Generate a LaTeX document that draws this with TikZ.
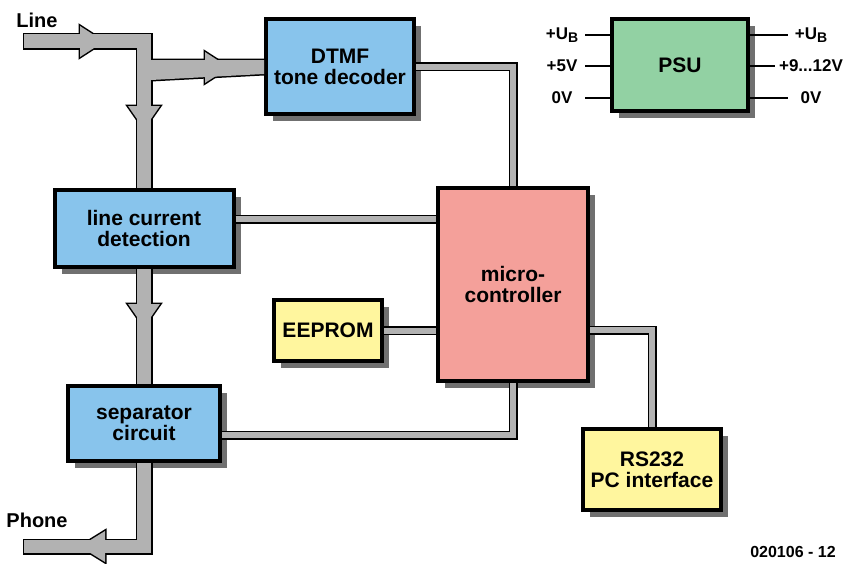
\documentclass[tikz,border=0pt]{standalone}
\usepackage{fontspec}
\setmainfont{Liberation Sans}
\usetikzlibrary{shadows, calc}
\definecolor{BlkBlue}{HTML}{88C4EC}
\definecolor{BlkPink}{HTML}{F4A09A}
\definecolor{BlkYellow}{HTML}{FFF69E}
\definecolor{BlkGreen}{HTML}{92D1A3}
\definecolor{BlkBus}{HTML}{B2B2B2}
\definecolor{BlkShadow}{HTML}{707070}
\newcommand{\pinsub}[1]{\raisebox{-0.3ex}{\fontsize{14}{14}\selectfont #1}}
\newcommand{\busshapes}[1]{%
  \path[#1] (24,34) rectangle (151,48);
  \path[#1] (80,26) -- (104,41.5) -- (80,57) -- cycle;
  \path[#1] ($(lcd.north)+(-7,0)$) rectangle (151,34);
  \path[#1] (128,106) -- (160,106) -- (144,129) -- cycle;
  \path[#1] (151,60) -- ($(dtmf.west)+(0,-6.5)$) -- ($(dtmf.west)+(0,7.5)$) -- (151,80) -- cycle;
  \path[#1] (205,52) -- (229,67.5) -- (205,83) -- cycle;
  \path[#1] ($(lcd.south)+(-7,0)$) rectangle ($(sep.north)+(7,0)$);
  \path[#1] (128,304) -- (160,304) -- (144,327) -- cycle;
  \path[#1] ($(sep.south)+(-7,0)$) rectangle (151,553);
  \path[#1] (24,540) rectangle (151,553);
  \path[#1] (105,531) -- (105,562) -- (80,546.5) -- cycle;}

\begin{document}
\begin{tikzpicture}[x=1pt, y=-1pt,
    blk/.style={
      rectangle, draw=black, line width=4pt, inner sep=0pt, align=center,
      font=\fontsize{21}{21}\selectfont\bfseries,
      drop shadow={shadow xshift=7pt, shadow yshift=-7pt, fill=BlkShadow, opacity=1}
    },
    link/.style={draw=black, line width=1.5pt, double=BlkBus, double distance=6pt},
    pin/.style={line width=1.5pt},
    lbl/.style={font=\fontsize{20}{20}\selectfont\bfseries, inner sep=0pt},
    pinlbl/.style={font=\fontsize{17}{17}\selectfont\bfseries, inner sep=0pt}
  ]
    \fill[white] (0,0) rectangle (845,563);
    \useasboundingbox (0,0) rectangle (845,563);

    \node[blk, fill=BlkBlue, minimum width=148pt, minimum height=95pt] (dtmf) at (340,66.5) {DTMF\\tone decoder};
    \node[blk, fill=BlkBlue, minimum width=179pt, minimum height=77pt] (lcd) at (144,228.5) {line current\\detection};
    \node[blk, fill=BlkBlue, minimum width=152pt, minimum height=75pt] (sep) at (144,423.5) {separator\\circuit};
    \node[blk, fill=BlkPink, minimum width=150pt, minimum height=193pt] (mcu) at (513,284.5) {micro-\\controller};
    \node[blk, fill=BlkYellow, minimum width=108pt, minimum height=61pt] (eeprom) at (328,330.5) {EEPROM};
    \node[blk, fill=BlkYellow, minimum width=138pt, minimum height=81pt] (rs) at (652,469.5) {RS232\\PC interface};
    \node[blk, fill=BlkGreen, minimum width=136pt, minimum height=92pt] (psu) at (680,65) {PSU};

    \busshapes{draw=black, line width=3pt}
    \busshapes{fill=BlkBus}

    \draw[link] (dtmf.east) -| (mcu.north);
    \coordinate (lcdR) at ([yshift=9.5pt]lcd.east);
    \draw[link] (lcdR) -- (lcdR -| mcu.west);
    \draw[link] (eeprom.east) -- (eeprom.east -| mcu.west);
    \coordinate (mcuR) at ([yshift=-45.5pt]mcu.east);
    \draw[link] (mcuR) -| (rs.north);
    \coordinate (sepR) at ([yshift=-11.5pt]sep.east);
    \draw[link] (mcu.south) |- (sepR);

    \foreach \i/\dy/\txt in {1/-30/{+U\pinsub{B}}, 2/1/{+5V}, 3/33/{0V}} {
      \draw[pin] (psu.west) ++(0,\dy) -- ++(-25,0);
      \node[pinlbl] (inp\i) at ($(psu.west)+(-48,\dy)$) {\txt};
    }
    \foreach \i/\dy/\len/\txt in {1/-30/38/{+U\pinsub{B}}, 2/1/25/{+9...12V}, 3/33/38/{0V}} {
      \draw[pin] (psu.east) ++(0,\dy) -- ++(\len,0);
      \node[pinlbl] (outp\i) at ($(psu.east)+(61,\dy)$) {\txt};
    }

    \node[lbl] (linelbl) at (37,20) {Line};
    \node[lbl] (phonelbl) at (37,520) {Phone};
    \node[pinlbl, font=\fontsize{16}{16}\selectfont\bfseries] (figno) at (793,552) {020106 - 12};
  \end{tikzpicture}
\end{document}
